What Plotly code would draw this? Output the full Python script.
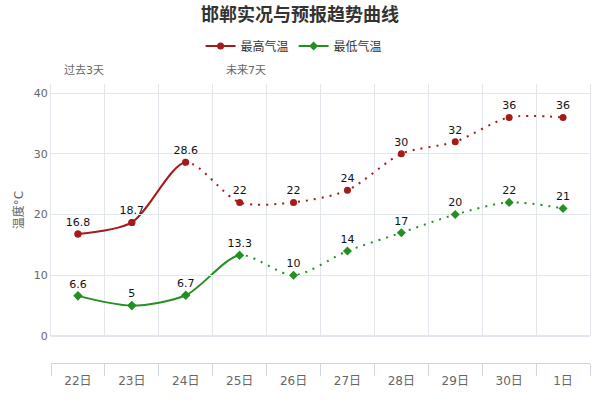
import plotly.graph_objects as go

days = ['22日', '23日', '24日', '25日', '26日', '27日', '28日', '29日', '30日', '1日']
max_temp = [16.8, 18.7, 28.6, 22, 22, 24, 30, 32, 36, 36]
min_temp = [6.6, 5, 6.7, 13.3, 10, 14, 17, 20, 22, 21]
# last observed day (solid line), the rest is forecast (dotted line)
max_split = 2
min_split = 3

red = '#a51a1a'
green = '#23901f'
font_family = 'DejaVu Sans, Noto Sans CJK SC, sans-serif'
grid = '#e2e7ee'
n = len(days)
smooth = 0.8

fig = go.Figure()
axes = {}

def clip_axis(name, lo, hi):
    # hidden x axis that only covers part of the plot, used to clip a line
    d0 = (lo + 0.5) / n
    d1 = (hi + 0.5) / n
    axes['xaxis' + name[1:]] = dict(type='category', domain=[d0, d1], range=[lo, hi],
                                    anchor='y', visible=False, showgrid=False)
    return name

def add_series(name, values, split, color, symbol, solid_ax, dot_ax):
    clip_axis(solid_ax, -0.5, split)
    clip_axis(dot_ax, split, n - 0.5)
    fig.add_trace(go.Scatter(
        x=days, y=values, xaxis=solid_ax,
        mode='lines+markers', name=name, legendgroup=name,
        line=dict(color=color, width=2, shape='spline', smoothing=smooth),
        marker=dict(color=color, size=7, symbol=symbol),
        hoverinfo='skip'
    ))
    fig.add_trace(go.Scatter(
        x=days, y=values, xaxis=dot_ax,
        mode='lines', legendgroup=name, showlegend=False,
        line=dict(color=color, width=2, shape='spline', smoothing=smooth, dash='2px,6px'),
        hoverinfo='skip'
    ))

add_series('最高气温', max_temp, max_split, red, 'circle', 'x2', 'x3')
add_series('最低气温', min_temp, min_split, green, 'diamond', 'x4', 'x5')

# markers and labels on top of the lines
axes['xaxis6'] = dict(type='category', domain=[0, 1], range=[-0.5, n - 0.5],
                      anchor='y', visible=False, showgrid=False)
for name, values, color, symbol in [('最高气温', max_temp, red, 'circle'),
                                    ('最低气温', min_temp, green, 'diamond')]:
    fig.add_trace(go.Scatter(
        x=days, y=values, xaxis='x6',
        mode='markers+text', legendgroup=name, showlegend=False,
        marker=dict(color=color, size=7, symbol=symbol),
        text=[('%g' % v) for v in values],
        textposition='top center',
        textfont=dict(size=11, color='#111', family=font_family),
        cliponaxis=False
    ))

# main (visible) x axis, needs a trace so categories exist
fig.add_trace(go.Scatter(x=days, y=[None] * n, mode='lines', showlegend=False, hoverinfo='skip'))

fig.update_layout(
    width=600, height=400,
    margin=dict(l=51, r=10, t=84, b=37, autoexpand=False),
    paper_bgcolor='white',
    plot_bgcolor='rgba(0,0,0,0)',
    font=dict(family=font_family, color='#666'),
    title=dict(text='<b>邯郸实况与预报趋势曲线</b>', x=0.5, xanchor='center',
               y=0.963, yanchor='middle', yref='container',
               font=dict(size=18, color='#333')),
    showlegend=True,
    legend=dict(orientation='h', x=0.451, xanchor='center',
                y=1.136, yanchor='middle', font=dict(size=12, color='#333')),
    xaxis=dict(type='category', range=[-0.5, n - 0.5], anchor='free', position=0,
               domain=[0, 1], automargin=False,
               showline=True, linecolor='#ccd6eb', linewidth=1,
               ticks='outside', ticklen=12, tickcolor='#ccd6eb', tickson='boundaries',
               ticklabelstandoff=7,
               showgrid=True, gridcolor=grid, gridwidth=1, tickangle=0,
               tickfont=dict(size=12, color='#666')),
    yaxis=dict(domain=[0.097, 1], range=[0, 41.5], dtick=10, tick0=0,
               showgrid=True, gridcolor=grid, zeroline=True, zerolinecolor=grid,
               showline=True, linecolor=grid, mirror=True, automargin=False,
               tickfont=dict(size=11, color='#666'),
               title=dict(text='温度°C', font=dict(size=12, color='#666'), standoff=7)),
    annotations=[
        dict(text='过去3天', xref='paper', yref='paper', x=0.02, y=1.047,
             xanchor='left', yanchor='middle', showarrow=False,
             font=dict(size=11, color='#666')),
        dict(text='未来7天', xref='paper', yref='paper', x=0.321, y=1.047,
             xanchor='left', yanchor='middle', showarrow=False,
             font=dict(size=11, color='#666')),
    ],
    **axes
)

fig.write_html('out.html', config={'displayModeBar': False},
               post_script="document.body.style.margin='0';")
